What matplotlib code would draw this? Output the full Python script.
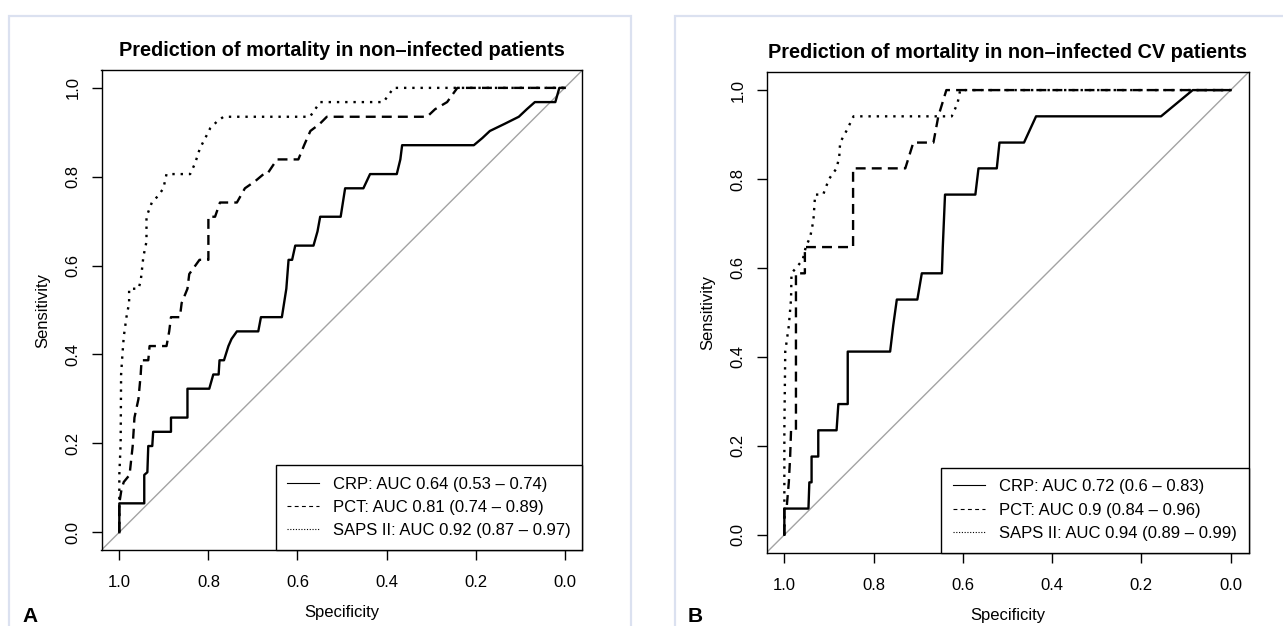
import matplotlib
matplotlib.use("Agg")
import matplotlib.pyplot as plt
from matplotlib.lines import Line2D
from matplotlib.patches import Rectangle

plt.rcParams['font.family'] = ['Liberation Sans', 'DejaVu Sans']

# ---- data (specificity, sensitivity) ----
titles = ["Prediction of mortality in non\u2013infected patients",
          "Prediction of mortality in non\u2013infected CV patients"]
panel_letters = ["A", "B"]
tick_values = [0.0, 0.2, 0.4, 0.6, 0.8, 1.0]
tick_labels = ["0.0", "0.2", "0.4", "0.6", "0.8", "1.0"]

legend_a = ["CRP: AUC 0.64 (0.53 \u2013 0.74)",
            "PCT: AUC 0.81 (0.74 \u2013 0.89)",
            "SAPS II: AUC 0.92 (0.87 \u2013 0.97)"]
legend_b = ["CRP: AUC 0.72 (0.6 \u2013 0.83)",
            "PCT: AUC 0.9 (0.84 \u2013 0.96)",
            "SAPS II: AUC 0.94 (0.89 \u2013 0.99)"]

crp_a_spec = [1.0, 1.0, 0.944, 0.944, 0.937, 0.935, 0.926, 0.924, 0.884, 0.884,
              0.847, 0.847, 0.798, 0.789, 0.777, 0.775, 0.765, 0.755, 0.748, 0.736,
              0.688, 0.682, 0.635, 0.630, 0.625, 0.620, 0.612, 0.605, 0.564, 0.555,
              0.549, 0.503, 0.493, 0.452, 0.437, 0.377, 0.369, 0.365, 0.204, 0.185,
              0.168, 0.135, 0.103, 0.085, 0.067, 0.021, 0.012, 0.0]
crp_a_sens = [0.0, 0.065, 0.065, 0.129, 0.135, 0.194, 0.194, 0.226, 0.226, 0.258,
              0.258, 0.323, 0.323, 0.355, 0.355, 0.387, 0.387, 0.419, 0.435, 0.452,
              0.452, 0.484, 0.484, 0.516, 0.548, 0.613, 0.613, 0.645, 0.645, 0.677,
              0.710, 0.710, 0.774, 0.774, 0.806, 0.806, 0.839, 0.871, 0.871, 0.887,
              0.903, 0.919, 0.935, 0.952, 0.968, 0.968, 1.0, 1.0]

pct_a_spec = [1.0, 1.0, 0.995, 0.99, 0.977, 0.97, 0.966, 0.957, 0.952, 0.95,
              0.935, 0.932, 0.894, 0.888, 0.884, 0.864, 0.86, 0.847, 0.843, 0.82,
              0.80, 0.80, 0.785, 0.774, 0.736, 0.718, 0.695, 0.676, 0.668, 0.646,
              0.598, 0.585, 0.571, 0.55, 0.534, 0.309, 0.291, 0.264, 0.241, 0.0]
pct_a_sens = [0.0, 0.065, 0.097, 0.113, 0.129, 0.194, 0.258, 0.30, 0.355, 0.387,
              0.387, 0.419, 0.419, 0.452, 0.484, 0.484, 0.516, 0.548, 0.581, 0.613,
              0.613, 0.710, 0.710, 0.742, 0.742, 0.774, 0.790, 0.806, 0.806, 0.839,
              0.839, 0.871, 0.903, 0.919, 0.935, 0.935, 0.952, 0.968, 1.0, 1.0]

saps_a_spec = [1.0, 1.0, 0.997, 0.996, 0.993, 0.99, 0.984, 0.978, 0.978, 0.957,
               0.952, 0.946, 0.939, 0.939, 0.927, 0.912, 0.901, 0.894, 0.841, 0.83,
               0.819, 0.807, 0.796, 0.781, 0.766, 0.572, 0.549, 0.407, 0.384, 0.0]
saps_a_sens = [0.0, 0.129, 0.2, 0.355, 0.40, 0.44, 0.484, 0.516, 0.548, 0.548,
               0.565, 0.62, 0.654, 0.710, 0.742, 0.758, 0.774, 0.806, 0.806, 0.83,
               0.864, 0.887, 0.909, 0.924, 0.935, 0.935, 0.968, 0.968, 1.0, 1.0]

crp_b_spec = [1.0, 1.0, 0.946, 0.944, 0.939, 0.939, 0.924, 0.924, 0.883, 0.879,
              0.858, 0.858, 0.763, 0.756, 0.748, 0.702, 0.692, 0.647, 0.645, 0.64,
              0.572, 0.565, 0.524, 0.518, 0.463, 0.436, 0.156, 0.085, 0.0]
crp_b_sens = [0.0, 0.059, 0.059, 0.118, 0.118, 0.176, 0.176, 0.235, 0.235, 0.294,
              0.294, 0.412, 0.412, 0.471, 0.529, 0.529, 0.588, 0.588, 0.647, 0.765,
              0.765, 0.824, 0.824, 0.882, 0.882, 0.941, 0.941, 1.0, 1.0]

pct_b_spec = [1.0, 1.0, 0.995, 0.99, 0.987, 0.985, 0.974, 0.974, 0.954, 0.954,
              0.846, 0.846, 0.729, 0.711, 0.666, 0.655, 0.637, 0.0]
pct_b_sens = [0.0, 0.059, 0.059, 0.118, 0.176, 0.235, 0.235, 0.588, 0.588, 0.647,
              0.647, 0.824, 0.824, 0.882, 0.882, 0.941, 1.0, 1.0]

saps_b_spec = [1.0, 1.0, 0.998, 0.99, 0.985, 0.984, 0.959, 0.952, 0.942, 0.935,
               0.931, 0.913, 0.90, 0.883, 0.877, 0.875, 0.86, 0.845, 0.625, 0.612,
               0.606, 0.0]
saps_b_sens = [0.0, 0.235, 0.412, 0.47, 0.53, 0.588, 0.618, 0.647, 0.67, 0.706,
               0.765, 0.765, 0.80, 0.824, 0.85, 0.882, 0.91, 0.941, 0.941, 0.97,
               1.0, 1.0]

W, H = 1283, 626

curve_styles = ['-', (0, (4.2, 2.6)), (0, (1, 2.5))]
legend_styles = ['-', (0, (3.5, 3)), (0, (1, 1.5))]


def fx(px):
    return px / W


def fy(py):
    return 1 - py / H


def draw_panel(fig, box, curves, labels, title, letter, frame_x):
    left, top, right, bottom = box
    ax = fig.add_axes([fx(left), fy(bottom), fx(right - left), (bottom - top) / H])

    # identity line, then the three ROC curves
    ax.axline((1, 0), (0, 1), color='#a3a3a3', lw=1.0, zorder=1)
    for (spec, sens), style in zip(curves, curve_styles):
        ax.plot(spec, sens, color='black', lw=1.7, linestyle=style, zorder=2)

    ax.set_xlim(1.04, -0.04)
    ax.set_ylim(-0.04, 1.04)
    ax.set_xticks(tick_values)
    ax.set_xticklabels(tick_labels)
    ax.set_yticks(tick_values)
    ax.set_yticklabels(tick_labels, rotation=90, va='center')
    ax.tick_params(direction='out', length=7.2, width=1.0, labelsize=12,
                   colors='black')
    ax.tick_params(axis='x', pad=11)
    ax.tick_params(axis='y', pad=7.7)
    for sp in ax.spines.values():
        sp.set_linewidth(1.0)
        sp.set_color('black')

    handles = [Line2D([], [], color='black', lw=0.8, linestyle=s) for s in legend_styles]
    leg = ax.legend(handles, labels, loc='lower right', bbox_to_anchor=(1, 0),
                    borderaxespad=0, fontsize=12, fancybox=False, framealpha=1,
                    edgecolor='black', handlelength=1.9, handletextpad=0.85,
                    borderpad=0.7, labelspacing=0.5)
    leg.get_frame().set_linewidth(1.0)

    cx = (left + right) / 2
    fig.text(fx(cx), fy(top - 20), title, ha='center', va='center',
             fontsize=14.3, fontweight='bold')
    fig.text(fx(cx), fy(bottom + 62.5), "Specificity", ha='center', va='center',
             fontsize=12)
    fig.text(fx(left - 59), fy((top + bottom) / 2), "Sensitivity", ha='center',
             va='center', rotation=90, fontsize=12)
    fig.text(fx(frame_x + 13), fy(621.5), letter, ha='left', va='baseline',
             fontsize=15, fontweight='bold')

    # light frame around each panel
    fig.add_artist(Rectangle((fx(frame_x), -0.2), (621.5) / W, fy(15.7) + 0.2,
                             transform=fig.transFigure, fill=False,
                             edgecolor='#dbe1f0', lw=1.6, clip_on=False))
    return ax


def main():
    fig = plt.figure(figsize=(W / 100, H / 100), dpi=100)

    curves_a = [(crp_a_spec, crp_a_sens), (pct_a_spec, pct_a_sens),
                (saps_a_spec, saps_a_sens)]
    curves_b = [(crp_b_spec, crp_b_sens), (pct_b_spec, pct_b_sens),
                (saps_b_spec, saps_b_sens)]

    draw_panel(fig, (101.5, 70.1, 582.5, 550.0), curves_a, legend_a,
               titles[0], panel_letters[0], 9.3)
    draw_panel(fig, (766.5, 72.3, 1248.5, 552.6), curves_b, legend_b,
               titles[1], panel_letters[1], 675.0)

    fig.savefig("out.png", dpi=100)
    return 0


if __name__ == '__main__':
    main()
